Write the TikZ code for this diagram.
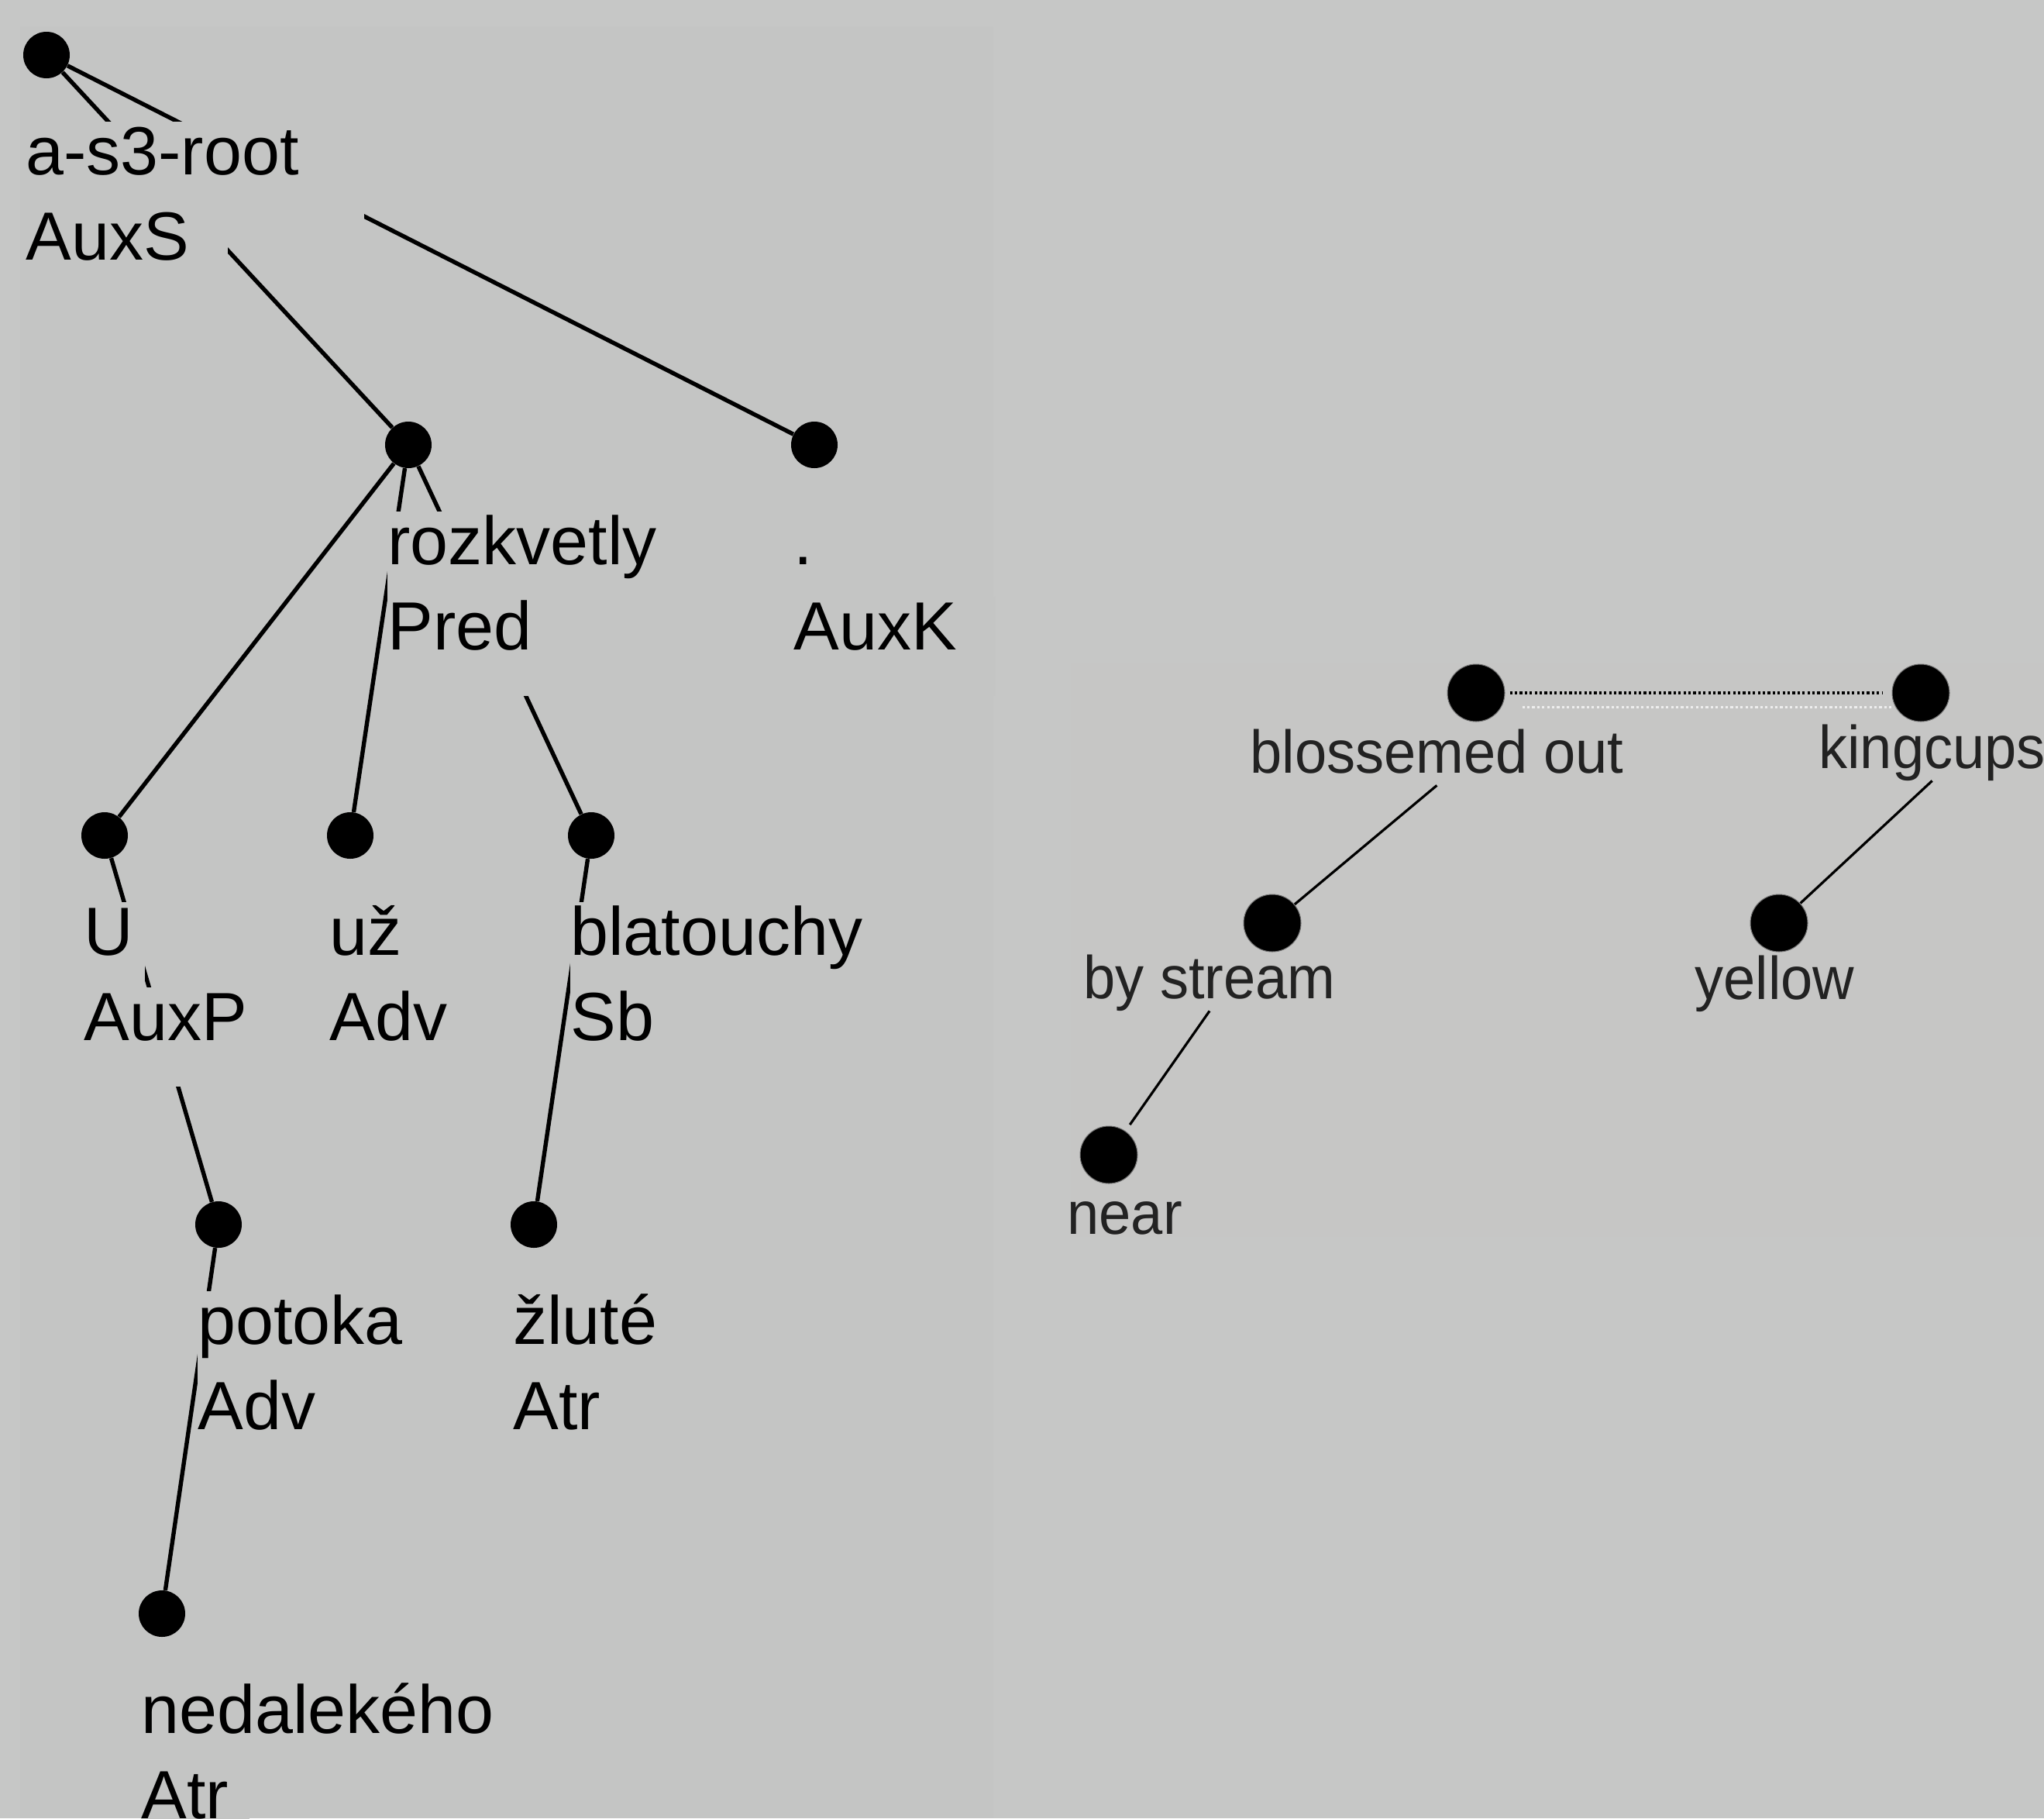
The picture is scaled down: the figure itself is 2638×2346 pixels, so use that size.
\documentclass[tikz,border=0pt]{standalone}
\usepackage{fontspec}
\setmainfont{Liberation Sans}
\newfontfamily\glossfont[FakeStretch=0.95]{Liberation Sans}
\usetikzlibrary{backgrounds}
\definecolor{canvas}{RGB}{198,199,198}
\definecolor{atree}{RGB}{196,197,196}
\definecolor{etree}{RGB}{198,198,197}
\definecolor{glossink}{RGB}{34,34,34}
\tikzset{
	adot/.style={circle,fill=black,inner sep=0pt,minimum size=30pt},
	edot/.style={circle,fill=black,draw=black!55,line width=.5pt,inner sep=0pt,minimum size=37pt},
	lab/.style={anchor=base west,inner sep=0pt,fill=atree,font=\fontsize{44}{53}\selectfont,
		text height=34pt,text depth=30pt,
		execute at begin node={\setbox0=\hbox\bgroup},
		execute at end node={\egroup\copy0\hskip.24\wd0}},
	gloss/.style={anchor=base west,inner sep=0pt,font=\glossfont\fontsize{39}{45}\selectfont,text=glossink,text depth=8pt},
	aedge/.style={line width=2.7pt},
	eedge/.style={line width=1.6pt,shorten >=5pt},
	coref/.style={line width=2pt,dash pattern=on 1.6pt off 1.6pt}
}
\begin{document}
\begin{tikzpicture}[x=0.5pt,y=-0.5pt]
	\useasboundingbox (0,0) rectangle (2638,2346);
	% analytical tree
	\node[adot] (r) at (60,71) {};
	\node[adot] (p) at (527,574) {};
	\node[adot] (k) at (1051,574) {};
	\node[adot] (u) at (135,1078) {};
	\node[adot] (z) at (452,1078) {};
	\node[adot] (b) at (763,1078) {};
	\node[adot] (o) at (282,1580) {};
	\node[adot] (l) at (689,1580) {};
	\node[adot] (n) at (209,2082) {};
	\node[lab] (r1) at ([shift={(-27,154)}]r) {a-s3-root};
	\node[lab] (r2) at ([shift={(-27,264)}]r) {AuxS};
	\node[lab] (p1) at ([shift={(-27,154)}]p) {rozkvetly};
	\node[lab] (p2) at ([shift={(-27,264)}]p) {Pred};
	\node[lab] (k1) at ([shift={(-27,154)}]k) {.};
	\node[lab] (k2) at ([shift={(-27,264)}]k) {AuxK};
	\node[lab] (u1) at ([shift={(-27,154)}]u) {U};
	\node[lab] (u2) at ([shift={(-27,264)}]u) {AuxP};
	\node[lab] (z1) at ([shift={(-27,154)}]z) {už};
	\node[lab] (z2) at ([shift={(-27,264)}]z) {Adv};
	\node[lab] (b1) at ([shift={(-27,154)}]b) {blatouchy};
	\node[lab] (b2) at ([shift={(-27,264)}]b) {Sb};
	\node[lab] (o1) at ([shift={(-27,154)}]o) {potoka};
	\node[lab] (o2) at ([shift={(-27,264)}]o) {Adv};
	\node[lab] (l1) at ([shift={(-27,154)}]l) {žluté};
	\node[lab] (l2) at ([shift={(-27,264)}]l) {Atr};
	\node[lab] (n1) at ([shift={(-27,154)}]n) {nedalekého};
	\node[lab] (n2) at ([shift={(-27,264)}]n) {Atr};
	% english tree
	\node[edot] (bo) at (1905,894) {};
	\node[edot] (kc) at (2479,894) {};
	\node[edot] (bs) at (1642,1191) {};
	\node[edot] (ye) at (2296,1191) {};
	\node[edot] (ne) at (1431,1490) {};
	\node[gloss] (bo1) at (1613,997) {blossemed out};
	\node[gloss] (kc1) at (2347,991) {kingcups};
	\node[gloss] (bs1) at (1398,1288) {by stream};
	\node[gloss] (ye1) at (2187,1289) {yellow};
	\node[gloss] (ne1) at (1377,1592) {near};
	\begin{pgfonlayer}{background}
		\fill[canvas] (0,0) rectangle (2638,2346);
		\fill[atree] (26,34) rectangle (1282,2346);
		\fill[etree] (1382,855) rectangle (2638,1596);
		\draw[aedge] (r) -- (p) (r) -- (k) (p) -- (u) (p) -- (z) (p) -- (b) (u) -- (o) (b) -- (l) (o) -- (n);
		\draw[eedge] (bo1.south) -- (bs) (kc1.south) -- (ye) (bs1.south) -- (ne);
		\draw[coref,shorten <=3pt,shorten >=6pt] (bo) -- (kc);
		\draw[coref,white!70!etree,line width=1.5pt,shorten <=11pt] ([yshift=-9pt]bo.east) -- ([yshift=-9pt]kc.west);
	\end{pgfonlayer}
\end{tikzpicture}
\end{document}
